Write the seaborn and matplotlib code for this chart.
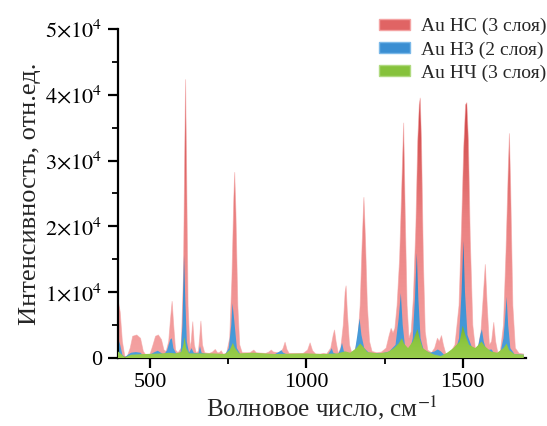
import numpy as np
import matplotlib
matplotlib.use("Agg")
import matplotlib.pyplot as plt
import seaborn as sns
from matplotlib.colors import LinearSegmentedColormap
from matplotlib.patches import Patch
from matplotlib.ticker import MultipleLocator, FuncFormatter

# ---------------- data ----------------
labels = ["Au НС (3 слоя)", "Au НЗ (2 слоя)", "Au НЧ (3 слоя)"]

red_x = [398, 405, 412, 420, 428, 437, 445, 458, 470, 479, 488, 500, 510, 518, 527, 537, 545, 552, 560, 566,
         571, 576, 582, 590, 600, 607, 611, 614, 617, 622, 628, 632, 637, 642, 648, 655, 659, 663, 668, 675,
         690, 700, 709, 716, 722, 728, 734, 745, 755, 762, 768, 771, 775, 781, 787, 795, 820, 832, 840, 870,
         880, 888, 895, 910, 920, 926, 932, 938, 945, 990, 1004, 1012, 1020, 1030, 1045, 1055, 1065, 1078,
         1086, 1090, 1095, 1102, 1110, 1118, 1124, 1127, 1131, 1138, 1145, 1155, 1165, 1172, 1178, 1184,
         1189, 1195, 1202, 1210, 1225, 1240, 1255, 1265, 1271, 1277, 1283, 1290, 1298, 1305, 1311, 1316,
         1322, 1328, 1335, 1342, 1350, 1356, 1361, 1364, 1368, 1374, 1380, 1388, 1400, 1410, 1419, 1425,
         1432, 1438, 1446, 1460, 1475, 1488, 1496, 1503, 1509, 1513, 1518, 1524, 1532, 1540, 1550, 1558,
         1565, 1572, 1578, 1585, 1592, 1599, 1605, 1612, 1620, 1630, 1638, 1645, 1649, 1653, 1660, 1668,
         1680, 1695]
red_y = [8800, 7000, 2500, 200, 300, 1500, 3300, 3500, 3000, 1000, 400, 500, 2000, 3300, 3500, 2800, 1200, 1000, 2500, 6000,
         8600, 5000, 1200, 800, 1500, 12000, 30000, 42300, 30000, 8000, 1500, 2500, 5500, 2000, 800, 1000, 3000, 5600, 2000, 800,
         700, 900, 1300, 800, 800, 1100, 600, 700, 3000, 12000, 24000, 28200, 22000, 8000, 2000, 800, 800, 1200, 800, 700,
         900, 1200, 900, 800, 1000, 1500, 2400, 1300, 700, 700, 1200, 2300, 1100, 600, 600, 700, 600, 1500,
         3500, 4250, 2500, 700, 1500, 5000, 10000, 10950, 7000, 2000, 800, 1000, 3000, 8000, 17000, 24400,
         18000, 8000, 2500, 1000, 800, 900, 1500, 3500, 4500, 3800, 4500, 8000, 15000, 26000, 35700, 22000,
         8000, 3000, 4000, 9000, 20000, 33000, 38500, 39500, 33000, 15000, 4000, 1200, 800, 1500, 3000, 2500,
         3400, 2000, 600, 800, 2000, 8000, 20000, 32000, 38500, 38800, 33000, 18000, 5000, 1500, 1800, 4000,
         9000, 14200, 8000, 2000, 2500, 5400, 2500, 800, 1000, 5000, 16000, 28000, 34100, 26000, 8000, 1500,
         700, 600]

blue_x = [398, 405, 412, 420, 430, 440, 455, 470, 480, 500, 515, 525, 535, 545, 555, 565, 570, 575, 585, 598,
          604, 609, 613, 618, 625, 633, 640, 655, 660, 665, 690, 740, 752, 760, 764, 770, 778, 790, 900, 915,
          920, 926, 940, 1070, 1078, 1081, 1086, 1100, 1108, 1114, 1120, 1140, 1155, 1163, 1170, 1176, 1185,
          1200, 1240, 1265, 1285, 1295, 1302, 1308, 1316, 1330, 1340, 1347, 1353, 1358, 1365, 1375, 1395,
          1410, 1420, 1430, 1440, 1475, 1488, 1496, 1502, 1507, 1515, 1530, 1548, 1556, 1561, 1567, 1575,
          1592, 1600, 1620, 1630, 1636, 1640, 1645, 1652, 1665, 1695]
blue_y = [3000, 2000, 500, 100, 500, 800, 900, 800, 300, 500, 900, 1100, 800, 500, 1200, 2800, 3000, 1500, 600, 800,
          5000, 15650, 9000, 2500, 800, 1500, 800, 700, 1800, 800, 500, 500, 1500, 5000, 8300, 5500, 1500, 500, 600, 1000,
          1200, 800, 500, 600, 1200, 1500, 800, 500, 1200, 2300, 1000, 600, 1000, 3500, 6000, 3500, 1500,
          800, 700, 1000, 2000, 6000, 9850, 5000, 1500, 1000, 3000, 9000, 15950, 9000, 3000, 1200, 800,
          1000, 1300, 1000, 500, 800, 3000, 10000, 17800, 10000, 3500, 1500, 1500, 3500, 4350, 2500, 1200,
          1300, 700, 800, 3000, 6500, 9300, 5000, 1500, 600, 500]

green_x = [398, 408, 420, 440, 480, 540, 560, 580, 600, 607, 611, 616, 625, 700, 740, 755, 765, 772, 785, 830,
           900, 1000, 1050, 1100, 1115, 1125, 1140, 1160, 1172, 1180, 1195, 1230, 1260, 1280, 1295, 1305, 1312,
           1325, 1340, 1355, 1362, 1372, 1390, 1410, 1430, 1450, 1470, 1490, 1500, 1508, 1520, 1540, 1560,
           1570, 1590, 1610, 1630, 1640, 1648, 1665, 1695]
green_y = [1000, 600, 100, 500, 600, 700, 800, 700, 900, 2000, 3200, 1500, 700, 700, 600, 1200, 2300, 1500, 700, 800,
           600, 700, 600, 700, 900, 1000, 800, 1500, 2200, 1800, 900, 700, 900, 1500, 2200, 3000, 2200,
           1500, 2500, 4400, 3000, 1500, 900, 500, 300, 800, 1500, 2500, 4900, 3500, 2000, 1500, 2500,
           1800, 1000, 800, 1500, 2200, 1200, 600, 500]

# ---------------- style ----------------
sns.set_theme(style="ticks")
plt.rcParams["font.family"] = ["Liberation Serif", "DejaVu Serif"]
plt.rcParams["mathtext.fontset"] = "stix"

fig = plt.figure(figsize=(5.47, 4.26), dpi=100)
ax = fig.add_axes([118 / 547, 68 / 426, 408 / 547, 329 / 426])

XMIN, XMAX, YMAX = 398, 1702, 50000

def grad_fill(x, y, colors, top, z):
    cmap = LinearSegmentedColormap.from_list("g", colors)
    poly = ax.fill_between(x, 0, y, facecolor="none", edgecolor="none", linewidth=0, zorder=z)
    g = np.linspace(0, 1, 256).reshape(-1, 1)
    img = ax.imshow(g, extent=[XMIN, XMAX, 0, top], origin="lower", aspect="auto",
                    cmap=cmap, zorder=z, interpolation="bilinear")
    img.set_clip_path(poly.get_paths()[0], transform=ax.transData)

grad_fill(red_x, red_y, ["#f4a3a3", "#f09292", "#ea8080", "#d85a5a", "#c63236"], 43000, 1)
grad_fill(blue_x, blue_y, ["#4c9fdc", "#3d92d4", "#2a78c0"], 18000, 2)
grad_fill(green_x, green_y, ["#98cc4c", "#8cc63f", "#74b030"], 5000, 3)

sns.lineplot(x=red_x, y=red_y, ax=ax, color="#f4a3a3", lw=0.6, alpha=0.6, zorder=1.5)

ax.set_xlim(XMIN, XMAX)
ax.set_ylim(0, YMAX)
ax.xaxis.set_major_locator(MultipleLocator(500))
ax.xaxis.set_minor_locator(MultipleLocator(250))
ax.yaxis.set_major_locator(MultipleLocator(10000))
ax.yaxis.set_minor_locator(MultipleLocator(5000))

def yfmt(v, pos):
    if v == 0:
        return "0"
    return r"$%d{\times}10^{4}$" % int(round(v / 10000))

ax.yaxis.set_major_formatter(FuncFormatter(yfmt))
for s in ["top", "right"]:
    ax.spines[s].set_visible(False)
for s in ["left", "bottom"]:
    ax.spines[s].set_linewidth(1.6)
    ax.spines[s].set_color("black")
ax.tick_params(axis="both", which="major", direction="out", length=7, width=1.6,
               labelsize=16, colors="black", pad=4)
ax.tick_params(axis="both", which="minor", direction="out", length=4, width=1.3, colors="black")

ax.set_xlabel("Волновое число, см$^{-1}$", fontsize=18, labelpad=1)
ax.set_ylabel("Интенсивность, отн.ед.", fontsize=19, labelpad=3)

handles = [Patch(facecolor="#e06464", edgecolor="#f4a3a3"),
           Patch(facecolor="#3a8ed2", edgecolor="#7ab8e8"),
           Patch(facecolor="#86c23c", edgecolor="#b0da80")]
fig.legend(handles, labels, loc="upper right", bbox_to_anchor=(1.02, 0.985), frameon=False,
           fontsize=14, handlelength=1.6, handleheight=0.5, labelspacing=0.3, handletextpad=0.55,
           borderaxespad=0.2)

fig.savefig("out.png", dpi=100)
